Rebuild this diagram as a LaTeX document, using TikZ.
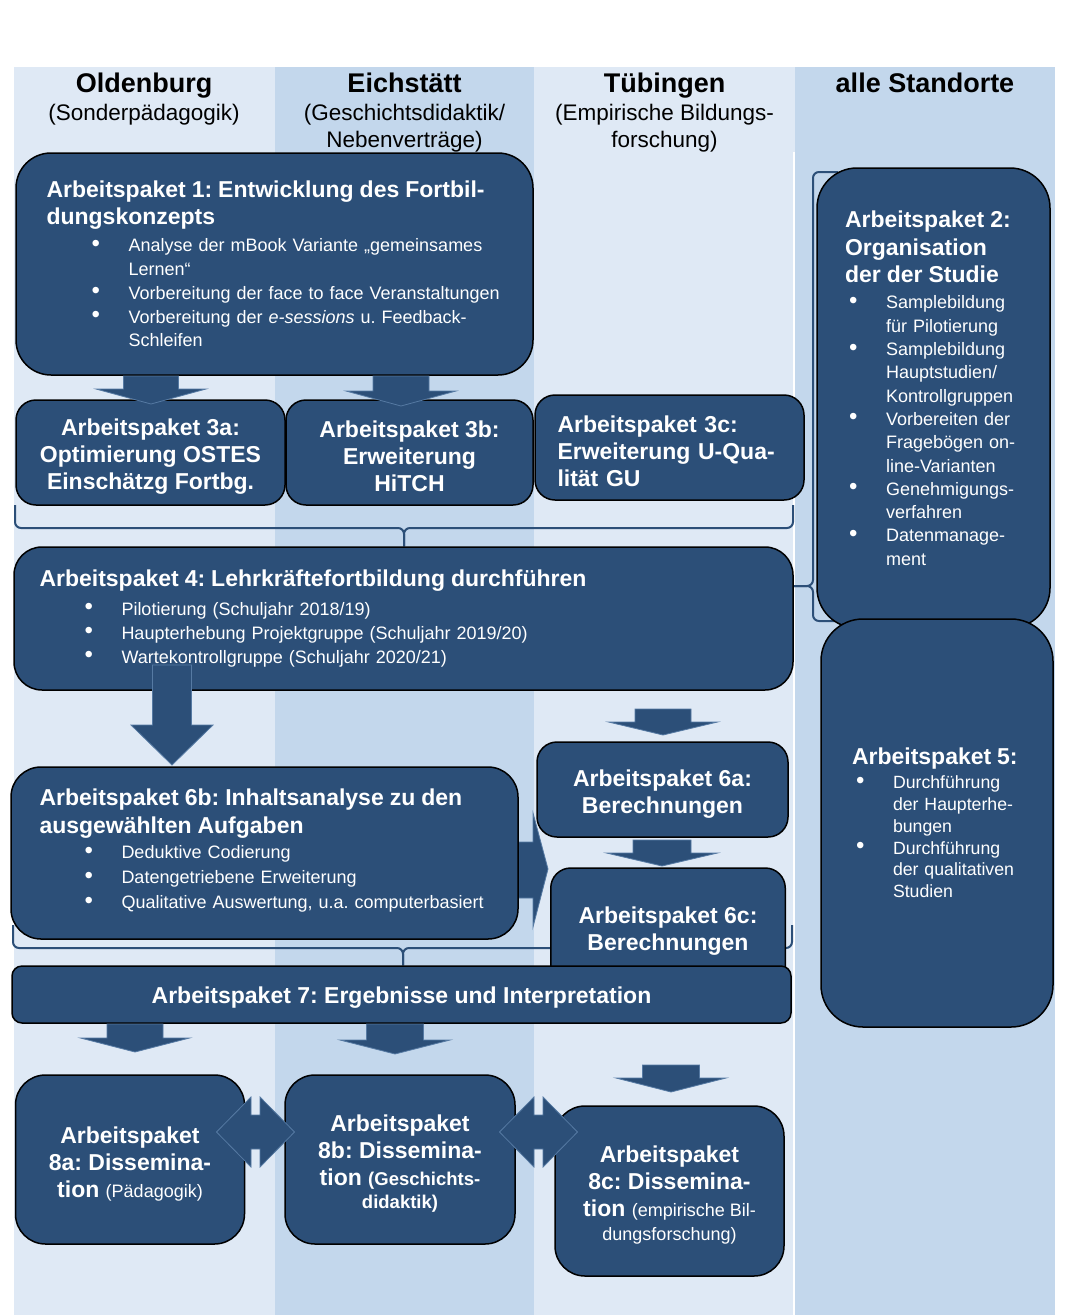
\documentclass[tikz,border=0pt]{standalone}
\usepackage{fontspec}
\setmainfont{Liberation Sans}
\usetikzlibrary{positioning}
\frenchspacing

\pgfdeclarelayer{cols}
\pgfdeclarelayer{lines}
\pgfsetlayers{cols,lines,main}

\definecolor{colLight}{RGB}{223,233,245}
\definecolor{colDark}{RGB}{195,215,236}
\definecolor{apBlue}{RGB}{44,79,120}
\definecolor{arrEdge}{RGB}{86,122,163}

\newcommand{\ttlfont}{\fontsize{23}{27}\selectfont\bfseries}
\newcommand{\ttl}[1]{\mbox{\ttlfont #1}}
\newcommand{\bulletmark}{\makebox[38pt][l]{\hspace*{1pt}\raisebox{0.5pt}{\fontsize{24}{24}\selectfont\textbullet}}}
\newcommand{\itm}[2][44pt]{\hspace*{#1}\bulletmark\mbox{#2}}
\newcommand{\cnt}[2][44pt]{\hspace*{#1}\hspace*{38pt}\mbox{#2}}
\newcommand{\topgap}{\rule{0pt}{25pt}}

\begin{document}
\begin{tikzpicture}[x=1pt, y=-1pt,
    apbox/.style={rectangle, draw=black, line width=1.5pt, fill=apBlue,
                  text=white, inner sep=0pt, font=\fontsize{18}{24}\selectfont},
    apleft/.style={apbox, align=left},
    apcenter/.style={apbox, align=center, font=\ttlfont},
    head/.style={font=\fontsize{27}{30}\selectfont\bfseries, anchor=base, inner sep=0pt},
    subhead/.style={font=\fontsize{22.5}{27}\selectfont, align=center, anchor=north, inner sep=0pt},
    blockarrow/.style={fill=apBlue, draw=arrEdge, line width=0.8pt},
    bracket/.style={draw=apBlue, line width=2pt, rounded corners=6pt}
]
\useasboundingbox (0,0) rectangle (1071,1315);

%% --- Spalten ---
\begin{pgfonlayer}{cols}
\fill[colLight] (14,67)    rectangle (274.5,1315);
\fill[colDark]  (274.5,67) rectangle (534,1315);
\fill[colLight] (534,67)   rectangle (795,1315);
\fill[colDark]  (795,67)   rectangle (1055,1315);
\draw[white, line width=1.2pt] (794,152) -- (794,1315);
\end{pgfonlayer}

%% --- Standorte ---
\node[head] (hd_old)  at (144,92)   {Oldenburg};
\node[head] (hd_eich) at (404.5,92) {Eichstätt};
\node[head] (hd_tueb) at (664.5,92) {Tübingen};
\node[head] (hd_alle) at (925,92)   {alle Standorte};
\node[subhead] (sub_old)  at (144,103.5)   {(Sonderpädagogik)};
\node[subhead] (sub_eich) at (404.5,103.5) {(Geschichtsdidaktik/\\Nebenverträge)};
\node[subhead] (sub_tueb) at (664.5,103.5) {(Empirische Bildungs-\\forschung)};

%% --- Arbeitspakete ---
\node[apleft, font=\fontsize{18}{23.75}\selectfont, minimum width=517pt,
      minimum height=222pt, text width=456pt, rounded corners=35pt]
      (ap1) at (274.5,264) {%
  \ttl{Arbeitspaket 1: Entwicklung des Fortbil-}\\[3.25pt]
  \ttl{dungskonzepts}\\[3.25pt]
  \itm{Analyse der mBook Variante „gemeinsames}\\
  \cnt{Lernen“}\\
  \itm{Vorbereitung der face to face Veranstaltungen}\\
  \itm{Vorbereitung der \textit{e-sessions} u. Feedback-}\\
  \cnt{Schleifen}};

\node[apcenter, minimum width=269pt, minimum height=105pt,
      rounded corners=20pt] (ap3a) at (150.5,452.5)
  {\topgap Arbeitspaket 3a:\\Optimierung OSTES\\Einschätzg Fortbg.};
\node[apcenter, minimum width=247pt, minimum height=105pt,
      rounded corners=20pt] (ap3b) at (409.5,452.5)
  {\topgap Arbeitspaket 3b:\\Erweiterung\\HiTCH};
\node[apleft, font=\ttlfont, minimum width=269pt, minimum height=105pt,
      text width=224pt, rounded corners=20pt] (ap3c) at (669.5,447.5)
  {\topgap\mbox{Arbeitspaket 3c:}\\\mbox{Erweiterung U-Qua-}\\\mbox{lität GU}};

\node[apleft, minimum width=779pt, minimum height=143pt, text width=728pt,
      rounded corners=28pt] (ap4) at (403.5,618.5) {%
  \ttl{Arbeitspaket 4: Lehrkräftefortbildung durchführen}\\[5pt]
  \itm{Pilotierung (Schuljahr 2018/19)}\\
  \itm{Haupterhebung Projektgruppe (Schuljahr 2019/20)}\\
  \itm{Wartekontrollgruppe (Schuljahr 2020/21)}};

\node[apleft, font=\fontsize{18}{23.3}\selectfont, minimum width=233pt,
      minimum height=460pt, text width=177pt, rounded corners=40pt]
      (ap2) at (933.5,398) {%
  \ttl{Arbeitspaket 2:}\\[4.5pt]
  \ttl{Organisation}\\[4.5pt]
  \ttl{der der Studie}\\[2.7pt]
  \itm[3pt]{Samplebildung}\\
  \cnt[3pt]{für Pilotierung}\\
  \itm[3pt]{Samplebildung}\\
  \cnt[3pt]{Hauptstudien/}\\
  \cnt[3pt]{Kontrollgruppen}\\
  \itm[3pt]{Vorbereiten der}\\
  \cnt[3pt]{Fragebögen on-}\\
  \cnt[3pt]{line-Varianten}\\
  \itm[3pt]{Genehmigungs-}\\
  \cnt[3pt]{verfahren}\\
  \itm[3pt]{Datenmanage-}\\
  \cnt[3pt]{ment}\rule[-20pt]{0pt}{0pt}};

\node[apleft, font=\fontsize{17.7}{21.8}\selectfont, minimum width=232pt,
      minimum height=408pt, text width=170pt, rounded corners=42pt]
      (ap5) at (937,823) {%
  \ttl{Arbeitspaket 5:}\\[2.2pt]
  \itm[3pt]{Durchführung}\\
  \cnt[3pt]{der Haupterhe-}\\
  \cnt[3pt]{bungen}\\
  \itm[3pt]{Durchführung}\\
  \cnt[3pt]{der qualitativen}\\
  \cnt[3pt]{Studien}};

\node[apcenter, minimum width=251pt, minimum height=95pt,
      rounded corners=20pt] (ap6a) at (662.5,789.5)
  {\topgap Arbeitspaket 6a:\\Berechnungen};

\node[apleft, font=\fontsize{18}{25}\selectfont, minimum width=507pt,
      minimum height=172pt, text width=450pt, rounded corners=30pt]
      (ap6b) at (264.5,853) {%
  \ttl{Arbeitspaket 6b: Inhaltsanalyse zu den}\\[3pt]
  \ttl{ausgewählten Aufgaben}\\
  \itm{Deduktive Codierung}\\
  \itm{Datengetriebene Erweiterung}\\
  \itm{Qualitative Auswertung, u.a. computerbasiert}\rule[-8pt]{0pt}{0pt}};

\node[apcenter, minimum width=234.5pt, minimum height=122pt,
      rounded corners=20pt] (ap6c) at (668,929)
  {\rule{0pt}{21pt}Arbeitspaket 6c:\\Berechnungen};

\node[apcenter, minimum width=779pt, minimum height=57pt,
      rounded corners=10pt] (ap7) at (401.5,994.5)
  {\rule{0pt}{23pt}Arbeitspaket 7: Ergebnisse und Interpretation};

\node[apcenter, minimum width=229pt, minimum height=169pt,
      rounded corners=30pt] (ap8a) at (130,1159.5)
  {\topgap Arbeitspaket\\8a: Dissemina-\\tion {\fontsize{18}{22}\selectfont\mdseries (Pädagogik)}};
\node[apcenter, minimum width=230pt, minimum height=169pt,
      rounded corners=30pt] (ap8b) at (400,1159.5)
  {\topgap Arbeitspaket\\8b: Dissemina-\\tion {\fontsize{18.5}{22}\selectfont (Geschichts-}\\[-4pt]
   {\fontsize{18.5}{22}\selectfont didaktik)}};
\node[apcenter, minimum width=229pt, minimum height=170pt,
      rounded corners=30pt] (ap8c) at (669.5,1191)
  {\topgap Arbeitspaket\\8c: Dissemina-\\tion {\fontsize{18}{22}\selectfont\mdseries (empirische Bil-}\\[-3pt]
   {\fontsize{18}{22}\selectfont\mdseries dungsforschung)}};

%% --- Klammern und Pfeil 6b -> 6c (hinter den Kaesten) ---
\coordinate (br1l) at (15,505);
\coordinate (br1r) at (793,505);
\coordinate (br1m) at (404,528);
\coordinate (br2t) at (838,172);
\coordinate (br2b) at (838,621);
\coordinate (br2m) at (813,586);
\coordinate (br3l) at (13,925);
\coordinate (br3r) at (792,925);
\coordinate (br3m) at (403,948);

\begin{pgfonlayer}{lines}
\draw[bracket] (br1l) |- (br1m) -- (br1m |- ap4.north);
\draw[bracket] (br1r) |- (br1m) -- (br1m |- ap4.north);
\draw[bracket] (br2t) -| (br2m) -- (br2m -| ap4.east);
\draw[bracket] (br2b) -| (br2m) -- (br2m -| ap4.east);
\draw[bracket] (br3l) |- (br3m) -- (br3m |- ap7.north);
\draw[bracket] (br3r) |- (br3m) -- (br3m |- ap7.north);
\draw[blockarrow] (ap6b.east |- 0,842) -- (533,842) -- (533,813) -- (548,869)
    -- (533,927) -- (533,898) -- (ap6b.east |- 0,898) -- cycle;
\end{pgfonlayer}

%% --- Blockpfeile ---
\foreach \cx/\sw/\hw/\ty/\by/\py in {151/27.5/55/376/389/404, 401/28/55/376/391/406,
    172/19.5/41/665/725/765, 663/28/54.5/709/722/735, 662/29/55.5/840/853/866,
    135/28/54.5/1024/1038/1052, 395/28.5/55/1024/1040/1054, 671/28.5/55/1065/1078/1092}
  \draw[blockarrow] ({\cx-\sw},\ty) -- ({\cx+\sw},\ty) -- ({\cx+\sw},\by)
      -- ({\cx+\hw},\by) -- (\cx,\py) -- ({\cx-\hw},\by) -- ({\cx-\sw},\by) -- cycle;

%% --- Doppelpfeile zwischen AP 8 ---
\foreach \cx in {255.5, 538.5}
  \draw[blockarrow] ({\cx-39},1132) -- ({\cx-4.5},1097) -- ({\cx-4.5},1115)
      -- ({\cx+4.5},1115) -- ({\cx+4.5},1097) -- ({\cx+39},1132)
      -- ({\cx+4.5},1167) -- ({\cx+4.5},1149) -- ({\cx-4.5},1149)
      -- ({\cx-4.5},1167) -- cycle;

\end{tikzpicture}
\end{document}
